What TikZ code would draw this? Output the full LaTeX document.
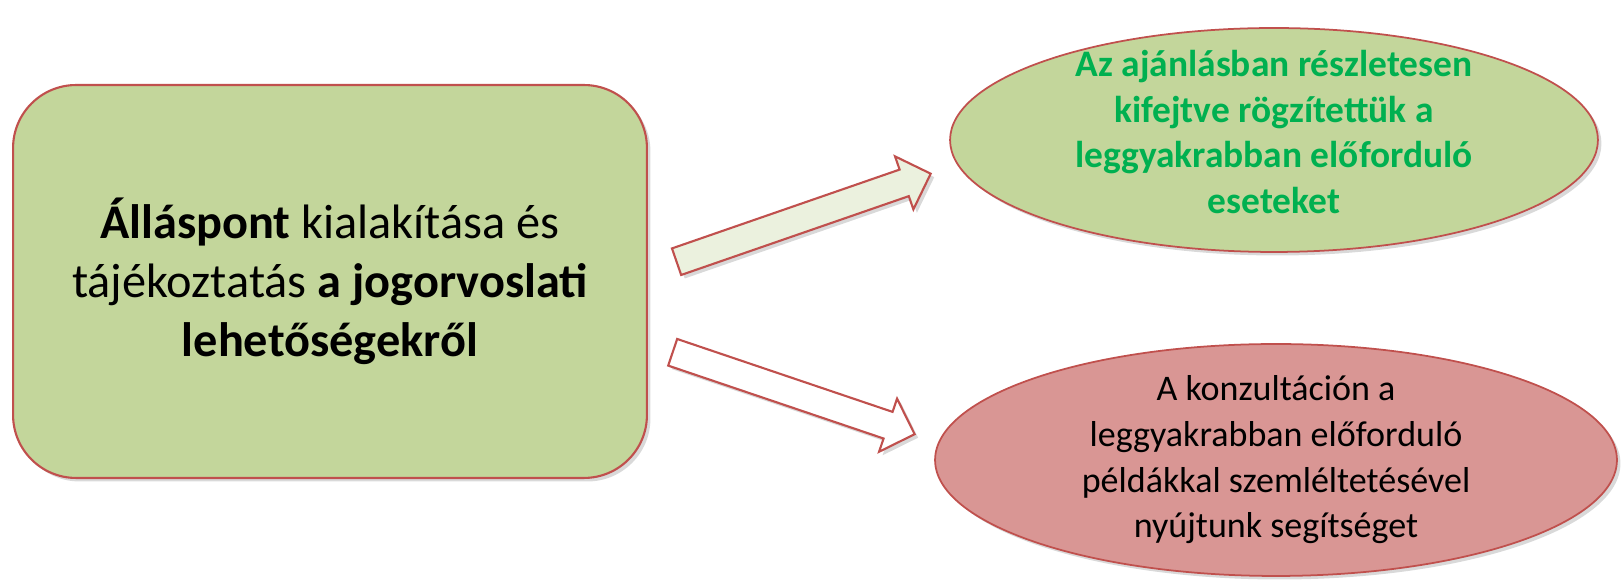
\documentclass[tikz,border=0pt]{standalone}
\usepackage{fontspec}
\setmainfont{Carlito}
\usetikzlibrary{shapes.geometric,shapes.arrows,shadows}
\definecolor{boxgreen}{HTML}{C3D69B}
\definecolor{edgered}{HTML}{C0504D}
\definecolor{palered}{HTML}{D99694}
\definecolor{palegreen}{HTML}{EBF1DE}
\definecolor{textgreen}{HTML}{00B050}
\tikzset{
  shade/.style={drop shadow={opacity=0.3, shadow xshift=2pt, shadow yshift=-2pt}},
  bigarrow/.style={single arrow, draw=edgered, line width=1.2pt, inner sep=0pt,
    inner ysep=0.26cm, single arrow head extend=0.28cm, shade},
  oval/.style={ellipse, draw=edgered, line width=1pt, inner sep=0pt, shade},
  ovaltext/.style={align=center}
}
\begin{document}
\begin{tikzpicture}[x=0.02cm, y=0.02cm]
    \useasboundingbox (0,0) rectangle (1623,584);

    \node[draw=edgered, fill=boxgreen, line width=1.2pt, rounded corners=1.26cm,
      minimum width=12.68cm, minimum height=7.86cm, shade, align=center,
      font=\fontsize{27.5}{33.5}\selectfont] (pos) at (330,302.5)
      {\textbf{Álláspont} kialakítása és\\tájékoztatás \textbf{a jogorvoslati}\\\textbf{lehetőségekről}};

    \node[bigarrow, fill=palegreen, minimum height=5.38cm, rotate=19.1] (arrA) at (797,364) {};
    \node[bigarrow, fill=white, minimum height=5.11cm, rotate=-18.7] (arrB) at (787,193) {};

    \node[oval, fill=boxgreen, minimum width=12.96cm, minimum height=4.48cm] (ovA) at (1274,444) {};
    \node[ovaltext, text=textgreen, font=\bfseries\fontsize{21.3}{26}\selectfont] (txtA) at (1274,452)
      {Az ajánlásban részletesen\\kifejtve rögzítettük a\\leggyakrabban előforduló\\eseteket};

    \node[oval, fill=palered, minimum width=13.64cm, minimum height=4.64cm] (ovB) at (1276,124) {};
    \node[ovaltext, font=\fontsize{20.5}{26}\selectfont] (txtB) at (1276,124)
      {A konzultáción a\\leggyakrabban előforduló\\példákkal szemléltetésével\\nyújtunk segítséget};
\end{tikzpicture}
\end{document}
